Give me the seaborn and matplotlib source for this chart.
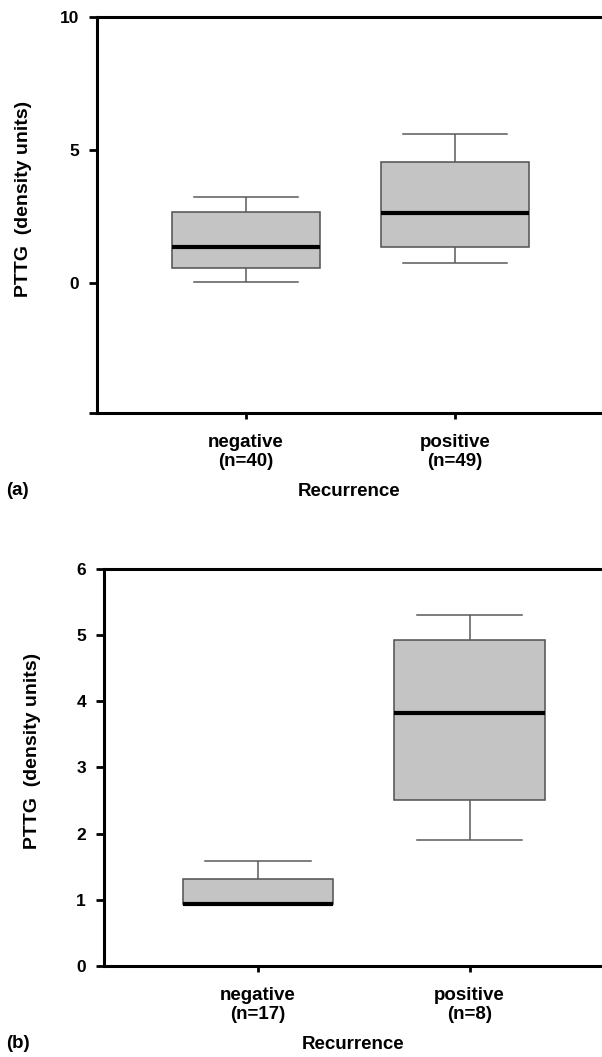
import numpy as np
import pandas as pd
import matplotlib.pyplot as plt
import seaborn as sns

plt.rcParams["font.family"] = ["Liberation Sans", "DejaVu Sans"]
plt.rcParams["font.weight"] = "bold"

groups = ["negative", "positive"]
ticklabels_a = ["negative\n(n=40)", "positive\n(n=49)"]
ticklabels_b = ["negative\n(n=17)", "positive\n(n=8)"]

# five-number summaries: min, q1, median, q3, max
neg_a = [0.05, 0.58, 1.35, 2.68, 3.24]
pos_a = [0.78, 1.38, 2.65, 4.55, 5.60]
neg_b = [0.94, 0.94, 0.94, 1.31, 1.59]
pos_b = [1.91, 2.51, 3.82, 4.92, 5.30]

df_a = pd.DataFrame({"group": np.repeat(groups, 5), "value": neg_a + pos_a})
df_b = pd.DataFrame({"group": np.repeat(groups, 5), "value": neg_b + pos_b})

fig = plt.figure(figsize=(6.02, 10.57), dpi=100)
ax1 = fig.add_axes([0.161, 0.609, 0.839, 0.375])
ax2 = fig.add_axes([0.1728, 0.0861, 0.8272, 0.3756])

box_kw = dict(width=0.71, whis=(0, 100), color="#c4c4c4", saturation=1,
              linecolor="#505050", linewidth=1.1,
              medianprops=dict(color="black", linewidth=3),
              whiskerprops=dict(color="#5a5a5a", linewidth=1.1),
              capprops=dict(color="#5a5a5a", linewidth=1.1),
              capwidths=0.5)

panels = [(ax1, df_a, ticklabels_a, (-4.88, 10), [0, 5, 10], (-0.713, 1.703), "(a)", 0.5355, -0.128),
          (ax2, df_b, ticklabels_b, (0, 6), [0, 1, 2, 3, 4, 5, 6], (-0.728, 1.626), "(b)", 0.0123, -0.126)]

for ax, df, tl, ylim, yt, xlim, tag, ty, lx in panels:
    sns.boxplot(data=df, x="group", y="value", ax=ax, **box_kw)
    ax.set_ylim(ylim)
    ax.set_xlim(xlim)
    ax.set_yticks(yt)
    ax.set_yticklabels([str(v) for v in yt], fontsize=12.5, fontweight="bold")
    ax.set_xticks([0, 1])
    ax.set_xticklabels(tl, fontsize=13.5, fontweight="bold", linespacing=1.15)
    if ylim[0] != yt[0]:
        ax.set_yticks([ylim[0]], minor=True)
        ax.tick_params(axis="y", which="minor", length=5.5, width=2, color="k")
    ax.set_ylabel("PTTG  (density units)", fontsize=14, fontweight="bold")
    ax.yaxis.set_label_coords(lx, 0.542)
    ax.set_xlabel("Recurrence", fontsize=13.5, fontweight="bold", labelpad=9.5)
    for s in ["left", "bottom", "top"]:
        ax.spines[s].set_color("k")
        ax.spines[s].set_linewidth(2.2)
    ax.spines["right"].set_visible(False)
    ax.tick_params(axis="y", length=5.5, width=2, pad=7.5)
    ax.tick_params(axis="x", length=4.5, width=2, pad=10.5)
    fig.text(0.011, ty, tag, fontsize=13.5, fontweight="bold", va="center")

fig.savefig("out.png", dpi=100)
